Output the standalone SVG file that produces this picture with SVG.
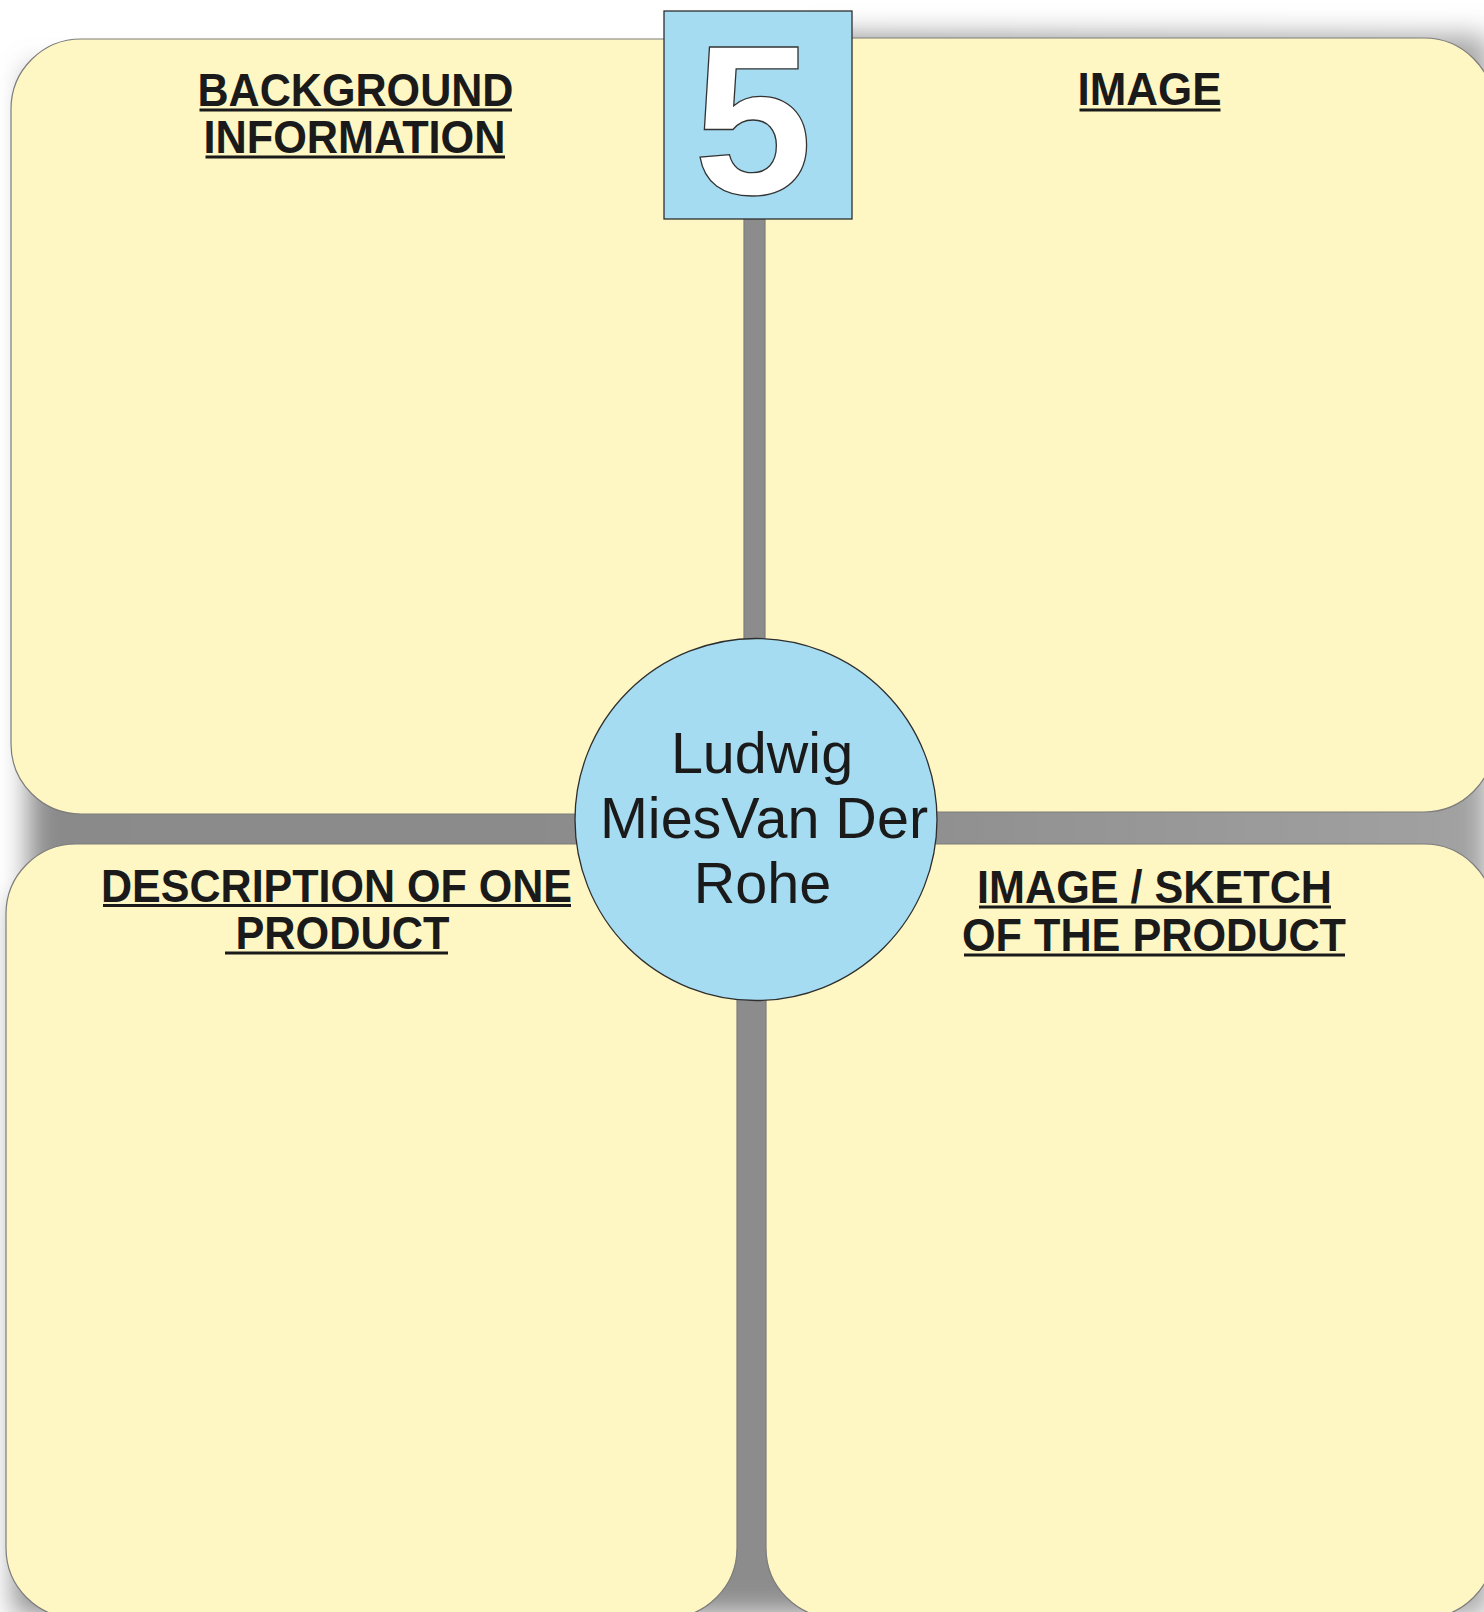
<svg xmlns="http://www.w3.org/2000/svg" width="1484" height="1612" viewBox="0 0 1484 1612">
  <defs>
    <filter id="soft" filterUnits="userSpaceOnUse" x="-200" y="-200" width="1900" height="2050">
      <feGaussianBlur stdDeviation="14"/>
    </filter>
    <linearGradient id="grayfill" gradientUnits="userSpaceOnUse" x1="0" y1="0" x2="1484" y2="0">
      <stop offset="0" stop-color="#8a8a8a"/>
      <stop offset="0.55" stop-color="#8c8c8c"/>
      <stop offset="1" stop-color="#a2a2a2"/>
    </linearGradient>
    <style>
      .panel { fill: #FEF6C3; stroke: #7d7d7d; stroke-width: 1.2; }
      .blue { fill: #A6DCF1; stroke: #2e2e2e; stroke-width: 1.3; }
      .head { font-family: "Liberation Sans", Arial, sans-serif; font-weight: bold; font-size: 46px; fill: #1a1a1a; }
      .ul { stroke: #1a1a1a; stroke-width: 3; }
      .center { font-family: "Liberation Sans", Arial, sans-serif; font-size: 57.5px; fill: #1a1a1a; text-anchor: middle; }
      .num { font-family: "Liberation Sans", Arial, sans-serif; font-weight: bold; font-size: 214px; fill: #ffffff; stroke: #333333; stroke-width: 1.3; text-anchor: middle; }
    </style>
  </defs>
  <rect x="0" y="0" width="1484" height="1612" fill="#ffffff"/>

  <g id="connectors" filter="url(#soft)" fill="url(#grayfill)">
    <rect x="28" y="70" width="1460" height="1545"/>
    <rect x="820" y="36" width="668" height="120"/>
    <rect x="14" y="900" width="120" height="715"/>
  </g>

  <g id="panel-background">
    <rect class="panel" x="11" y="39" width="733" height="775" rx="70" ry="70"/>
    <text class="head" x="197.5" y="106" textLength="316" lengthAdjust="spacingAndGlyphs">BACKGROUND</text>
    <line class="ul" x1="199.5" y1="110" x2="512" y2="110"/>
    <text class="head" x="203.5" y="153" textLength="302" lengthAdjust="spacingAndGlyphs">INFORMATION</text>
    <line class="ul" x1="205.5" y1="157" x2="505" y2="157"/>
  </g>

  <g id="panel-image">
    <rect class="panel" x="765" y="38" width="729" height="774" rx="70" ry="70"/>
    <text class="head" x="1077.5" y="105" textLength="144" lengthAdjust="spacingAndGlyphs">IMAGE</text>
    <line class="ul" x1="1079.5" y1="110" x2="1220.5" y2="110"/>
  </g>

  <g id="panel-description">
    <rect class="panel" x="6" y="844" width="731" height="774" rx="70" ry="70"/>
    <text class="head" x="101" y="901.5" textLength="471" lengthAdjust="spacingAndGlyphs">DESCRIPTION OF ONE</text>
    <line class="ul" x1="103" y1="905.5" x2="571" y2="905.5"/>
    <text class="head" x="235.5" y="949" textLength="214" lengthAdjust="spacingAndGlyphs">PRODUCT</text>
    <line class="ul" x1="225" y1="953" x2="448" y2="953"/>
  </g>

  <g id="panel-sketch">
    <rect class="panel" x="766" y="844" width="728" height="774" rx="70" ry="70"/>
    <text class="head" x="977" y="903" textLength="355" lengthAdjust="spacingAndGlyphs">IMAGE / SKETCH</text>
    <line class="ul" x1="979" y1="907" x2="1331" y2="907"/>
    <text class="head" x="962" y="950.5" textLength="384" lengthAdjust="spacingAndGlyphs">OF THE PRODUCT</text>
    <line class="ul" x1="964" y1="955" x2="1345" y2="955"/>
  </g>

  <g id="number-box">
    <rect class="blue" x="664" y="11" width="188" height="208"/>
    <text class="num" x="753" y="194">5</text>
  </g>

  <g id="center-topic">
    <circle class="blue" cx="756" cy="819.5" r="181"/>
    <text class="center" x="762" y="773">Ludwig</text>
    <text class="center" x="764" y="838">MiesVan Der</text>
    <text class="center" x="762.5" y="903">Rohe</text>
  </g>
</svg>
